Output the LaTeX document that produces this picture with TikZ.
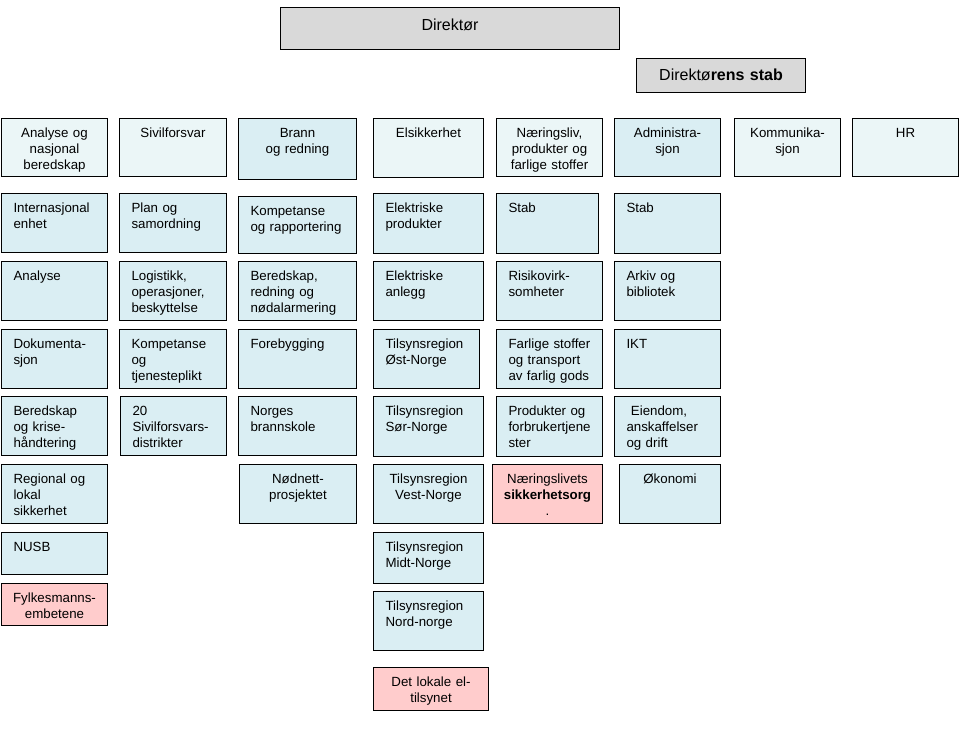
\documentclass[tikz,border=0pt]{standalone}
\usepackage{fontspec}
\setmainfont{Liberation Sans}
\usepackage{xcolor}
\usepackage{tikz}
\definecolor{cellblue}{RGB}{218,238,243}
\definecolor{headblue}{RGB}{235,246,247}
\definecolor{extpink}{RGB}{255,204,204}
\definecolor{bossgray}{RGB}{217,217,217}
\newcommand{\unitfont}{\fontsize{13.3pt}{16pt}\selectfont\exhyphenpenalty=10000 }
\newcommand{\bossfont}{\fontsize{16pt}{19pt}\selectfont}
\tikzset{
  padx/.code   ={\def\boxpad{#1}},
  basel/.code  ={\def\boxtop{#1}},
  unit/.style  ={rectangle, draw=black, line width=1pt, fill=cellblue, anchor=north west,
                 inner ysep=0pt, padx=12, basel=18.5, align=left, font=\unitfont},
  head/.style  ={unit, fill=headblue, align=center, padx=5},
  ext/.style   ={unit, fill=extpink, align=center, padx=5},
  boss/.style  ={unit, fill=bossgray, align=center, padx=5, font=\bossfont},
  sz/.code 2 args={\pgfmathsetmacro\boxw{#1-2*\boxpad}\pgfmathsetmacro\boxd{#2-\boxtop}%
                 \tikzset{inner xsep/.expanded=\boxpad pt, text height/.expanded=\boxtop pt,
                          text width/.expanded=\boxw pt, text depth/.expanded=\boxd pt}}
}
\begin{document}
\begin{tikzpicture}[x=1pt, y=-1pt]
\useasboundingbox (0,0) rectangle (968,734);
\node[boss, basel=23, sz={339}{42}] (dir) at (280,7) {Direktør};
\node[boss, basel=22, sz={169}{34}] (stab) at (636,58) {Direktø\textbf{rens stab}};

\node[head, sz={106}{58}] (ans)   at (1,118)   {Analyse og\\nasjonal\\beredskap};
\node[head, sz={107}{58}] (sivil) at (119,118) {Sivilforsvar};
\node[head, sz={118}{61}, fill=cellblue] (brann) at (238,118) {Brann\\og redning};
\node[head, sz={110}{59}] (elsik) at (373,118) {Elsikkerhet};
\node[head, sz={106}{58}] (naer)  at (496,118) {Næringsliv,\\produkter og\\farlige stoffer};
\node[head, sz={106}{58}, fill=cellblue] (adm) at (614,118) {Administra-\\sjon};
\node[head, sz={106}{58}] (komm)  at (734,118) {Kommunika-\\sjon};
\node[head, sz={106}{58}] (hr)    at (852,118) {HR};

\node[unit, sz={106}{59}] (intl)  at (1,193)   {Internasjonal\\enhet};
\node[unit, sz={106}{59}] (anal)  at (1,261)   {Analyse};
\node[unit, sz={106}{59}] (dok)   at (1,329)   {Dokumenta-\\sjon};
\node[unit, sz={106}{59}] (krise) at (1,396)   {Beredskap\\og krise-\\håndtering};
\node[unit, sz={106}{59}] (lokal) at (1,464)   {Regional~og\\lokal\\sikkerhet};
\node[unit, sz={106}{42}] (nusb)  at (1,532)   {NUSB};
\node[ext,  sz={106}{42}] (fylke) at (1,583)   {Fylkesmanns-\\embetene};

\node[unit, sz={107}{59}] (plan)  at (119,193) {Plan og\\samordning};
\node[unit, sz={107}{59}] (logi)  at (119,261) {Logistikk,\\operasjoner,\\beskyttelse};
\node[unit, sz={107}{59}] (komp)  at (119,329) {Kompetanse\\og\\tjenesteplikt};
\node[unit, sz={106}{59}] (distr) at (120,396) {20\\Sivilforsvars-\\distrikter};

\node[unit, sz={118}{57}] (rapp)  at (238,196) {Kompetanse\\ og~rapportering};
\node[unit, sz={118}{59}] (nodal) at (238,261) {Beredskap,\\redning og\\nødalarmering};
\node[unit, sz={118}{59}] (fore)  at (238,329) {Forebygging};
\node[unit, sz={118}{59}] (skole) at (238,396) {Norges\\brannskole};
\node[unit, align=center, padx=5, sz={117}{59}] (nodnett) at (239,464) {Nødnett-\\prosjektet};

\node[unit, sz={110}{60}] (elprod) at (373,193) {Elektriske\\produkter};
\node[unit, sz={110}{59}] (elanl)  at (373,261) {Elektriske\\anlegg};
\node[unit, sz={106}{59}] (ost)    at (373,329) {Tilsynsregion\\Øst-Norge};
\node[unit, sz={110}{60}] (sor)    at (373,396) {Tilsynsregion\\Sør-Norge};
\node[unit, align=center, padx=5, sz={110}{59}] (vest) at (373,464) {Tilsynsregion\\Vest-Norge};
\node[unit, sz={110}{51}] (midt)   at (373,532) {Tilsynsregion\\Midt-Norge};
\node[unit, sz={110}{59}] (nord)   at (373,591) {Tilsynsregion\\Nord-norge};
\node[ext,  sz={115}{43}] (eltil)  at (373,667) {Det lokale el-\\tilsynet};

\node[unit, sz={102}{60}] (nstab)  at (496,193) {Stab};
\node[unit, sz={106}{59}] (risiko) at (496,261) {Risikovirk-\\somheter};
\node[unit, sz={106}{59}] (farlig) at (496,329) {Farlige~stoffer\\og~transport\\av~farlig~gods};
\node[unit, sz={106}{60}] (forbr)  at (496,396) {Produkter~og\\forbrukertjene\\ster};
\node[ext,  sz={110}{59}] (sikorg) at (492,464) {Næringslivets\\\textbf{sikkerhetsorg}\\.};

\node[unit, sz={106}{60}] (astab)  at (614,193) {Stab};
\node[unit, sz={106}{59}] (arkiv)  at (614,261) {Arkiv og\\bibliotek};
\node[unit, sz={106}{59}] (ikt)    at (614,329) {IKT};
\node[unit, sz={106}{60}] (eiend)  at (614,396) {\ Eiendom,\\anskaffelser\\og drift};
\node[unit, align=center, padx=5, sz={101}{59}] (okon) at (619,464) {Økonomi};
\end{tikzpicture}
\end{document}
